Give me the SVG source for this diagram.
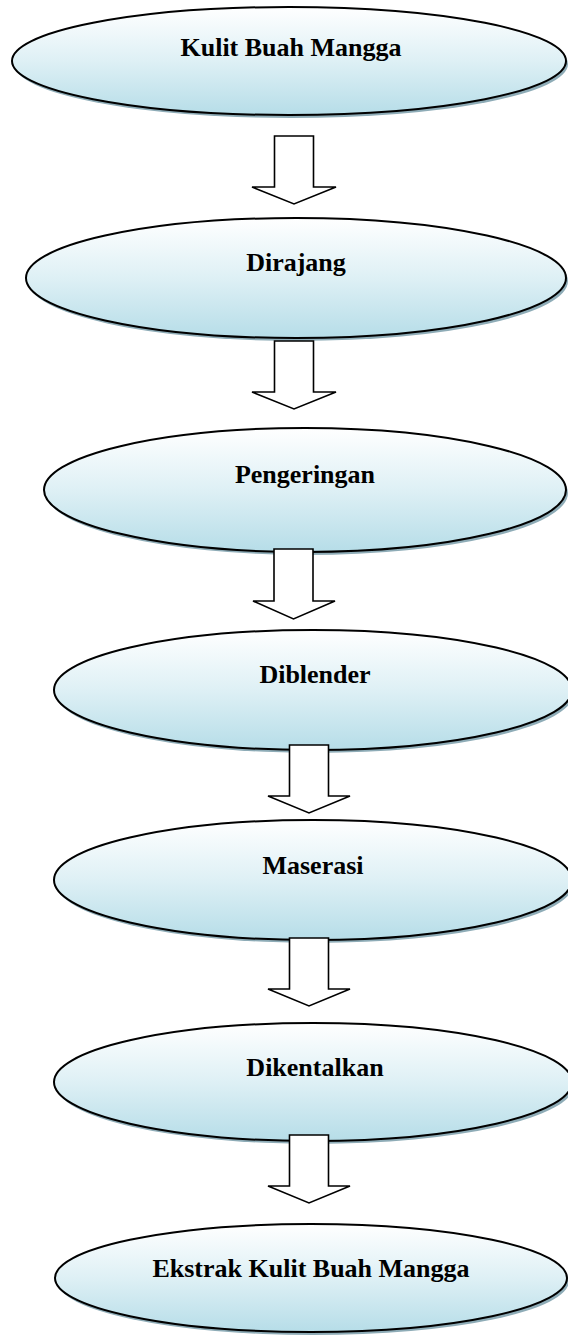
<svg xmlns="http://www.w3.org/2000/svg" width="568" height="1337" viewBox="0 0 568 1337">
<defs>
<linearGradient id="g" x1="0" y1="0" x2="0" y2="1">
<stop offset="0" stop-color="#ffffff"/>
<stop offset="0.5" stop-color="#def0f5"/>
<stop offset="1" stop-color="#b6dde8"/>
</linearGradient>
</defs>
<style>
.sh{fill:#8eacb7;stroke:none}
.el{fill:url(#g);stroke:#000;stroke-width:2}
.t{font-family:"Liberation Serif","Times New Roman",serif;font-weight:bold;font-size:26px;fill:#000;text-anchor:middle}
.ar{fill:#fff;stroke:#000;stroke-width:1.6;stroke-linejoin:miter}
</style>
<rect width="568" height="1337" fill="#fff"/>
<g id="n1">
<ellipse class="sh" cx="291" cy="64" rx="277" ry="54"/>
<ellipse class="el" cx="289" cy="61" rx="277" ry="54"/>
<text class="t" x="291" y="56">Kulit Buah Mangga</text>
</g>
<g id="n2">
<ellipse class="sh" cx="298" cy="281" rx="270" ry="60"/>
<ellipse class="el" cx="296" cy="278" rx="270" ry="60"/>
<text class="t" x="296" y="271">Dirajang</text>
</g>
<g id="n3">
<ellipse class="sh" cx="307" cy="493" rx="261" ry="62"/>
<ellipse class="el" cx="305" cy="490" rx="261" ry="62"/>
<text class="t" x="305" y="483">Pengeringan</text>
</g>
<g id="n4">
<ellipse class="sh" cx="315" cy="693" rx="259" ry="60"/>
<ellipse class="el" cx="313" cy="690" rx="259" ry="60"/>
<text class="t" x="315" y="683">Diblender</text>
</g>
<g id="n5">
<ellipse class="sh" cx="315" cy="883" rx="259" ry="60"/>
<ellipse class="el" cx="313" cy="880" rx="259" ry="60"/>
<text class="t" x="313" y="874">Maserasi</text>
</g>
<g id="n6">
<ellipse class="sh" cx="315" cy="1085" rx="259" ry="59"/>
<ellipse class="el" cx="313" cy="1082" rx="259" ry="59"/>
<text class="t" x="315" y="1076">Dikentalkan</text>
</g>
<g id="n7">
<ellipse class="sh" cx="313" cy="1281" rx="256" ry="54"/>
<ellipse class="el" cx="311" cy="1278" rx="256" ry="54"/>
<text class="t" x="311" y="1277">Ekstrak Kulit Buah Mangga</text>
</g>
<g id="connectors">
<polygon class="ar" points="274.5,136 313.5,136 313.5,187 336,187 294,204 252,187 274.5,187"/>
<polygon class="ar" points="274.5,341 313.5,341 313.5,392 336,392 294,409 252,392 274.5,392"/>
<polygon class="ar" points="274,549 313,549 313,601 335,601 293.5,619 253,601 274,601"/>
<polygon class="ar" points="289.5,745 328.5,745 328.5,796 350,796 309,813 268,796 289.5,796"/>
<polygon class="ar" points="289.5,938 328.5,938 328.5,989 350,989 309,1006 268,989 289.5,989"/>
<polygon class="ar" points="289.5,1135 328.5,1135 328.5,1186 350,1186 309,1203 268,1186 289.5,1186"/>
</g>
</svg>
